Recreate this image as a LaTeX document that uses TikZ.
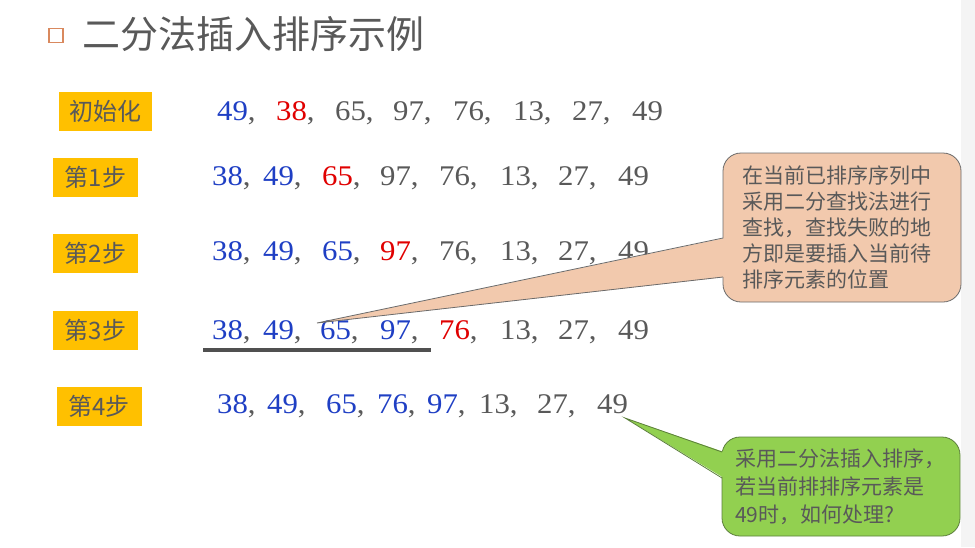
\documentclass[tikz,border=0pt]{standalone}
\usepackage{fontspec}
\setmainfont{Liberation Serif}
\newfontfamily\cjk{Noto Sans CJK SC}
\newfontfamily\numfont[FakeStretch=1.08]{Liberation Serif}

\definecolor{txtgray}{HTML}{595959}
\definecolor{numblue}{HTML}{1F3FC4}
\definecolor{numred}{HTML}{E00000}
\definecolor{stepfill}{HTML}{FFC000}
\definecolor{boxorange}{HTML}{D9895E}
\definecolor{notepeach}{HTML}{F2C9AD}
\definecolor{notegreen}{HTML}{92D050}
\definecolor{notegray}{HTML}{6B6B6B}
\definecolor{greenedge}{HTML}{5C7F3C}
\definecolor{linegray}{HTML}{505050}
\definecolor{stripgray}{HTML}{F4F4F4}

\tikzset{
  steplabel/.style={fill=stepfill, text=txtgray, inner sep=0pt, minimum height=39pt,
    font=\cjk\fontsize{24}{24}\selectfont},
  numtext/.style={anchor=base west, inner sep=0pt, text=txtgray,
    font=\numfont\fontsize{28.5}{28.5}\selectfont},
  note/.style={rounded corners=18pt, line width=0.8pt, text=txtgray, align=left, inner sep=0pt},
}

\begin{document}
\begin{tikzpicture}[x=1pt,y=-1pt]
        \useasboundingbox (0,0) rectangle (975,547);

        % Grey strip at the right edge
        \fill[stripgray] (961,0) rectangle (975,547);

        % Title
        \node[draw=boxorange, line width=1.4pt, minimum size=14pt, inner sep=0pt] (bullet) at (56,35.5) {};
        \node[anchor=west, inner sep=0pt, text=txtgray, font=\cjk\fontsize{38}{38}\selectfont] (title) at (82,34) {二分法插入排序示例};

        % Step labels
        \node[steplabel, minimum width=93pt] (init) at (105.5,111.5) {初始化};
        \node[steplabel, minimum width=85pt] (s1) at (95.5,177.5) {第1步};
        \node[steplabel, minimum width=85pt] (s2) at (95.5,253.5) {第2步};
        \node[steplabel, minimum width=85pt] (s3) at (95.5,330.5) {第3步};
        \node[steplabel, minimum width=85pt] (s4) at (99,406) {第4步};

        % Number rows: x / value / colour
        \foreach \x/\val/\col [count=\i] in {217/49/numblue, 276/38/numred, 335/65/txtgray, 393/97/txtgray,
            453/76/txtgray, 513/13/txtgray, 572/27/txtgray, 632/49/txtgray}
          \node[numtext] (r0n\i) at (\x,120) {\textcolor{\col}{\val}\ifnum\i<8 ,\fi};
        \foreach \x/\val/\col [count=\i] in {212/38/numblue, 263/49/numblue, 322/65/numred, 380/97/txtgray,
            439/76/txtgray, 500/13/txtgray, 558/27/txtgray, 618/49/txtgray}
          \node[numtext] (r1n\i) at (\x,185) {\textcolor{\col}{\val}\ifnum\i<8 ,\fi};
        \foreach \x/\val/\col [count=\i] in {212/38/numblue, 263/49/numblue, 322/65/numblue, 380/97/numred,
            439/76/txtgray, 500/13/txtgray, 558/27/txtgray, 618/49/txtgray}
          \node[numtext] (r2n\i) at (\x,260) {\textcolor{\col}{\val}\ifnum\i<8 ,\fi};
        \foreach \x/\val/\col [count=\i] in {212/38/numblue, 263/49/numblue, 320/65/numblue, 380/97/numblue,
            439/76/numred, 500/13/txtgray, 558/27/txtgray, 618/49/txtgray}
          \node[numtext] (r3n\i) at (\x,339) {\textcolor{\col}{\val}\ifnum\i<8 ,\fi};
        \foreach \x/\val/\col [count=\i] in {217/38/numblue, 267/49/numblue, 326/65/numblue, 377/76/numblue,
            427/97/numblue, 479/13/txtgray, 537/27/txtgray, 597/49/txtgray}
          \node[numtext] (r4n\i) at (\x,413) {\textcolor{\col}{\val}\ifnum\i<8 ,\fi};

        % Sorted part of step 3
        \draw[line width=3.5pt, linegray] (203,350) -- (431,350);

        % Callout on the search
        \node[note, fill=notepeach, draw=notegray, minimum width=238pt, minimum height=149pt, text width=200pt,
          font=\cjk\fontsize{21}{26}\selectfont] (noteA) at (842,227.5)
          {在当前已排序序列中\\采用二分查找法进行\\查找，查找失败的地\\方即是要插入当前待\\排序元素的位置};
        \coordinate (tipA) at (317,323);
        \coordinate (aUp) at (723,238);
        \coordinate (aLow) at (723,277);
        \fill[notepeach] (tipA) -- ([xshift=2pt]aUp) -- ([xshift=2pt]aLow) -- cycle;
        \draw[notegray, line width=0.8pt] (aUp) -- (tipA) -- (aLow);

        % Callout on the last 49
        \node[note, fill=notegreen, draw=greenedge, minimum width=238pt, minimum height=99pt, text width=212pt,
          font=\cjk\fontsize{21}{28}\selectfont] (noteB) at (841,486.5)
          {采用二分法插入排序，\\若当前排排序元素是\\49时，如何处理?};
        \coordinate (tipB) at (625,418);
        \coordinate (bUp) at (722,452);
        \coordinate (bLow) at (722,478);
        \fill[notegreen] (tipB) -- ([xshift=2pt]bUp) -- ([xshift=2pt]bLow) -- cycle;
        \draw[greenedge, line width=0.8pt] (bUp) -- (tipB) -- (bLow);

\end{tikzpicture}
\end{document}
